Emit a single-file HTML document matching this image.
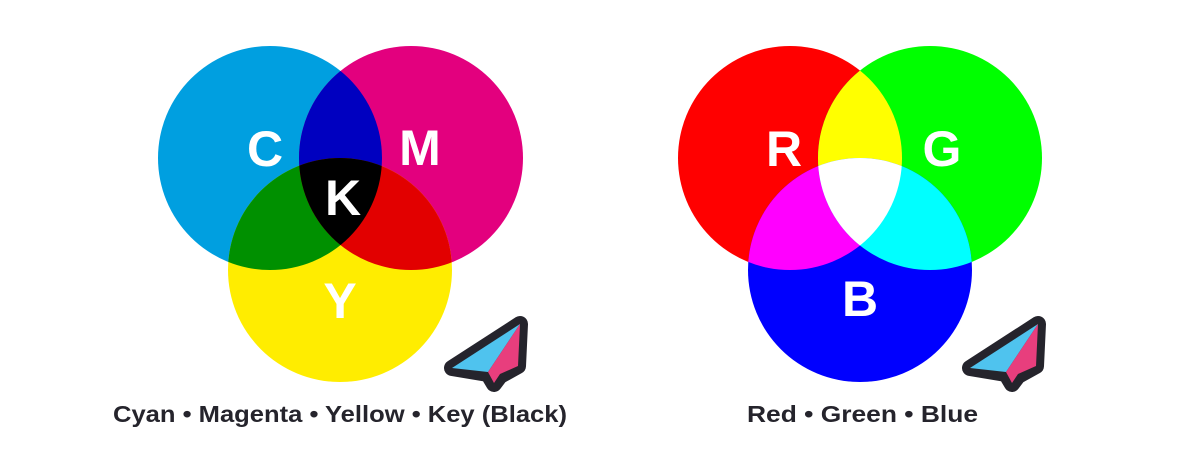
<!DOCTYPE html>
<html><head><style>
html,body{margin:0;padding:0;background:#fff;}
svg{display:block;}
text{font-family:"Liberation Sans",sans-serif;font-weight:bold;}
</style></head><body>
<svg width="1200" height="456" viewBox="0 0 1200 456">
<defs>
<clipPath id="cC"><circle cx="270" cy="158" r="112"/></clipPath>
<clipPath id="cM"><circle cx="411" cy="158" r="112"/></clipPath>
<clipPath id="cY"><circle cx="340" cy="270" r="112"/></clipPath>
<clipPath id="cR"><circle cx="790" cy="158" r="112"/></clipPath>
<clipPath id="cG"><circle cx="930" cy="158" r="112"/></clipPath>
<clipPath id="cB"><circle cx="860" cy="270" r="112"/></clipPath>
<g id="plane">
<path d="M2,50 L70,6 L68,48 L50,58 L44,66 L38,56 Z" fill="#25242c" stroke="#25242c" stroke-width="16" stroke-linejoin="round"/>
<path d="M2,50 L70,6 L38,54 Z" fill="#4fc3ee"/>
<path d="M70,6 L68,48 L50,56 L44,65 L38,54 Z" fill="#e83e7d"/>
</g>
</defs>
<circle cx="270" cy="158" r="112" fill="#009fe0"/>
<circle cx="411" cy="158" r="112" fill="#e3007e"/>
<circle cx="340" cy="270" r="112" fill="#ffed00"/>
<g clip-path="url(#cC)"><circle cx="411" cy="158" r="112" fill="#0000c0"/><circle cx="340" cy="270" r="112" fill="#009000"/></g>
<g clip-path="url(#cM)"><circle cx="340" cy="270" r="112" fill="#e20000"/></g>
<g clip-path="url(#cC)"><g clip-path="url(#cM)"><circle cx="340" cy="270" r="112" fill="#000"/></g></g>
<g fill="#fff" font-size="50" text-anchor="middle">
<text x="265" y="166">C</text><text x="420" y="165">M</text>
<text x="343" y="215">K</text><text x="340" y="318">Y</text>
</g>
<circle cx="790" cy="158" r="112" fill="#ff0000"/>
<circle cx="930" cy="158" r="112" fill="#00ff00"/>
<circle cx="860" cy="270" r="112" fill="#0000ff"/>
<g clip-path="url(#cR)"><circle cx="930" cy="158" r="112" fill="#ffff00"/><circle cx="860" cy="270" r="112" fill="#ff00ff"/></g>
<g clip-path="url(#cG)"><circle cx="860" cy="270" r="112" fill="#00ffff"/></g>
<g clip-path="url(#cR)"><g clip-path="url(#cG)"><circle cx="860" cy="270" r="112" fill="#fff"/></g></g>
<g fill="#fff" font-size="50" text-anchor="middle">
<text x="784" y="166">R</text><text x="942" y="166">G</text><text x="860" y="316">B</text>
</g>
<use href="#plane" x="450" y="318"/>
<use href="#plane" x="968" y="318"/>
<g fill="#25242c" font-size="23">
<text x="113" y="422" textLength="454" lengthAdjust="spacingAndGlyphs">Cyan • Magenta • Yellow • Key (Black)</text>
<text x="747" y="422" textLength="231" lengthAdjust="spacingAndGlyphs">Red • Green • Blue</text>
</g>
</svg>
</body></html>
